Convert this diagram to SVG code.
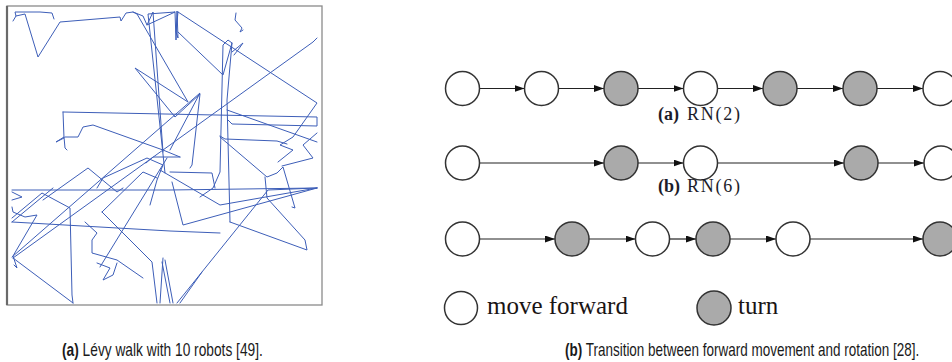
<svg xmlns="http://www.w3.org/2000/svg" width="952" height="362" viewBox="0 0 952 362">
  <style>
    .walk { fill: none; stroke: #3d5eb8; stroke-width: 1; stroke-linejoin: round; stroke-linecap: round; }
    .fw { fill: #ffffff; stroke: #333333; stroke-width: 1.5; }
    .tn { fill: #aaaaaa; stroke: #333333; stroke-width: 1.5; }
    .edge { stroke: #222222; stroke-width: 1.2; fill: none; marker-end: url(#arrow); }
    .lbl { font-family: "Liberation Serif", "Times New Roman", serif; font-size: 18px; fill: #1c1c2a; }
    .leg { font-family: "Liberation Serif", "Times New Roman", serif; font-size: 25px; fill: #1a1414; }
    .cap { font-family: "Liberation Sans", Arial, sans-serif; font-size: 18px; fill: #1a1a1a; }
  </style>
  <defs>
    <marker id="arrow" markerUnits="userSpaceOnUse" markerWidth="10" markerHeight="7" refX="10" refY="3.5" orient="auto">
      <path d="M0,0 L10,3.5 L0,7 z" fill="#111111"/>
    </marker>
  </defs>

  <rect width="952" height="362" fill="#ffffff"/>

  <!-- Lévy walk trajectories -->
  <g id="walk-plot">
    <rect x="7" y="6" width="315" height="299" fill="#ffffff" stroke="#8a8a8a" stroke-width="1.3"/>
    <line x1="7" y1="6" x2="7" y2="305" stroke="#6a6a6a" stroke-width="2.2"/>
    <polyline class="walk" points="13,21 16,16 15,12 40,12 52,13 54,19"/>
    <polyline class="walk" points="16,16 25,14 38,57 60,22 120,17 121,21 126,13 133,12 137,14"/>
    <polyline class="walk" points="137,14 188,102 135,68 175,117 200,94 192,165 190,168"/>
    <polyline class="walk" points="12,257 200,93 170,150"/>
    <polyline class="walk" points="133,12 143,16 147,25 153,12 163,152"/>
    <polyline class="walk" points="147,25 175,12 148,14 165,173"/>
    <polyline class="walk" points="175,12 176,40 177,11 178,38 176,32 178,12"/>
    <polyline class="walk" points="178,12 317,103 293,137 280,145 293,150 278,162"/>
    <polyline class="walk" points="178,32 223,75 232,43 228,40 223,45 220,172 213,188 200,197"/>
    <polyline class="walk" points="232,43 227,100 230,222"/>
    <polyline class="walk" points="236,13 235,20 242,28 240,32 243,30"/>
    <polyline class="walk" points="232,52 243,43 238,50 234,55"/>
    <polyline class="walk" points="317,38 313,42 13,258"/>
    <polyline class="walk" points="63,112 317,117 317,126 232,124 228,120"/>
    <polyline class="walk" points="63,112 64,138 56,142 64,137 65,148 67,150"/>
    <polyline class="walk" points="65,137 78,137 83,127 93,125 163,150 180,157"/>
    <polyline class="walk" points="227,110 317,142"/>
    <polyline class="walk" points="220,136 225,139 277,141 287,144"/>
    <polyline class="walk" points="220,137 267,177 277,173 283,167 295,208 292,207"/>
    <polyline class="walk" points="317,133 303,145 313,158 282,166"/>
    <polyline class="walk" points="12,190 170,190 317,188"/>
    <polyline class="walk" points="12,192 22,197 12,200"/>
    <polyline class="walk" points="12,207 13,212 25,217 37,215 13,256 17,268 14,265"/>
    <polyline class="walk" points="12,222 53,188"/>
    <polyline class="walk" points="12,218 42,193 70,208 72,295 73,303"/>
    <polyline class="walk" points="13,258 73,303"/>
    <polyline class="walk" points="43,200 88,168 117,192 123,188"/>
    <polyline class="walk" points="97,188 103,178 147,158 163,165 157,180 150,205"/>
    <polyline class="walk" points="102,212 120,230 152,262 157,303"/>
    <polyline class="walk" points="102,212 143,172 157,178"/>
    <polyline class="walk" points="85,222 97,233 92,240 92,253 117,260 143,278"/>
    <polyline class="walk" points="97,263 110,268 103,280 113,275 117,263"/>
    <polyline class="walk" points="100,267 167,158"/>
    <polyline class="walk" points="12,222 170,231 220,233"/>
    <polyline class="walk" points="163,258 160,303"/>
    <polyline class="walk" points="162,262 170,303"/>
    <polyline class="walk" points="165,260 173,303"/>
    <polyline class="walk" points="177,303 268,190 317,188"/>
    <polyline class="walk" points="202,272 180,303"/>
    <polyline class="walk" points="265,177 267,198 305,240 307,250 230,222"/>
    <polyline class="walk" points="172,182 183,225 317,188"/>
    <polyline class="walk" points="160,170 220,205 317,188"/>
    <polyline class="walk" points="170,172 212,173 215,188"/>
    <polyline class="walk" points="146,163 153,157 167,157 180,157"/>
  </g>

  <!-- connectors between states -->
  <g id="connectors">
    <line class="edge" x1="479.5" y1="88.5" x2="524.5" y2="88.5"/>
    <line class="edge" x1="558.5" y1="88.5" x2="604" y2="88.5"/>
    <line class="edge" x1="638" y1="88.5" x2="683.5" y2="88.5"/>
    <line class="edge" x1="717.5" y1="88.5" x2="763" y2="88.5"/>
    <line class="edge" x1="797" y1="88.5" x2="843" y2="88.5"/>
    <line class="edge" x1="877" y1="88.5" x2="923" y2="88.5"/>

    <line class="edge" x1="479.5" y1="163" x2="604" y2="163"/>
    <line class="edge" x1="638" y1="163" x2="683.5" y2="163"/>
    <line class="edge" x1="717.5" y1="163" x2="844" y2="163"/>
    <line class="edge" x1="878" y1="163" x2="924" y2="163"/>

    <line class="edge" x1="479.5" y1="239" x2="555" y2="239"/>
    <line class="edge" x1="589" y1="239" x2="635.5" y2="239"/>
    <line class="edge" x1="669.5" y1="239" x2="696" y2="239"/>
    <line class="edge" x1="730" y1="239" x2="776" y2="239"/>
    <line class="edge" x1="810" y1="239" x2="923" y2="239"/>
  </g>

  <!-- RN(2) sequence -->
  <g id="a1"><circle class="fw" cx="462.5" cy="88.5" r="17"/></g>
  <g id="a2"><circle class="fw" cx="541.5" cy="88.5" r="17"/></g>
  <g id="a3"><circle class="tn" cx="621" cy="88.5" r="17"/></g>
  <g id="a4"><circle class="fw" cx="700.5" cy="88.5" r="17"/></g>
  <g id="a5"><circle class="tn" cx="780" cy="88.5" r="17"/></g>
  <g id="a6"><circle class="tn" cx="860" cy="88.5" r="17"/></g>
  <g id="a7"><circle class="fw" cx="940" cy="88.5" r="17"/></g>
  <g id="label-a">
    <text class="lbl" x="658" y="119.5" font-weight="bold">(a)</text>
    <text class="lbl" x="687" y="119.5" textLength="53" lengthAdjust="spacing">RN(2)</text>
  </g>

  <!-- RN(6) sequence -->
  <g id="b1"><circle class="fw" cx="462.5" cy="163" r="17"/></g>
  <g id="b2"><circle class="tn" cx="621" cy="163" r="17"/></g>
  <g id="b3"><circle class="fw" cx="700.5" cy="163" r="17"/></g>
  <g id="b4"><circle class="tn" cx="861" cy="163" r="17"/></g>
  <g id="b5"><circle class="fw" cx="941" cy="163" r="17"/></g>
  <g id="label-b">
    <text class="lbl" x="658" y="192" font-weight="bold">(b)</text>
    <text class="lbl" x="687" y="192" textLength="53" lengthAdjust="spacing">RN(6)</text>
  </g>

  <!-- mixed sequence -->
  <g id="c1"><circle class="fw" cx="462.5" cy="239" r="17"/></g>
  <g id="c2"><circle class="tn" cx="572" cy="239" r="17"/></g>
  <g id="c3"><circle class="fw" cx="652.5" cy="239" r="17"/></g>
  <g id="c4"><circle class="tn" cx="713" cy="239" r="17"/></g>
  <g id="c5"><circle class="fw" cx="793" cy="239" r="17"/></g>
  <g id="c6"><circle class="tn" cx="940" cy="239" r="17"/></g>

  <!-- legend -->
  <g id="legend-forward">
    <circle class="fw" cx="461" cy="308" r="16.5"/>
    <text class="leg" x="487" y="314">move forward</text>
  </g>
  <g id="legend-turn">
    <circle class="tn" cx="714" cy="308" r="17"/>
    <text class="leg" x="738" y="314">turn</text>
  </g>

  <!-- captions, set in a narrowed sans -->
  <g id="caption-a" transform="translate(62,356) scale(0.764,1)">
    <text class="cap" x="0" y="0"><tspan font-weight="bold">(a)</tspan> Lévy walk with 10 robots [49].</text>
  </g>
  <g id="caption-b" transform="translate(565,356) scale(0.749,1)">
    <text class="cap" x="0" y="0"><tspan font-weight="bold">(b)</tspan> Transition between forward movement and rotation [28].</text>
  </g>
</svg>
